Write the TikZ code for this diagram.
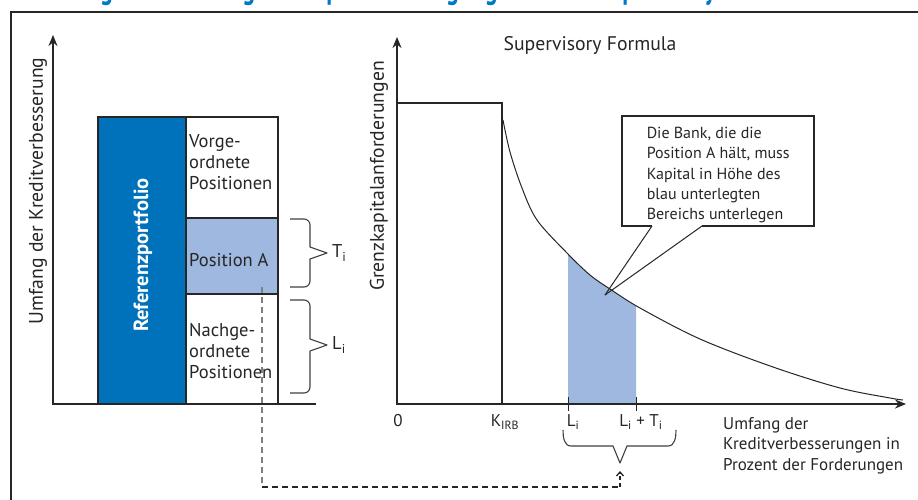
\documentclass[tikz,border=0pt]{standalone}
\usepackage{fontspec}
\setmainfont{PT Sans}
\usetikzlibrary{arrows.meta}
\definecolor{refblue}{RGB}{0,114,187}
\definecolor{lightblue}{RGB}{158,184,224}
\definecolor{titleblue}{RGB}{0,120,200}
\begin{document}
\begin{tikzpicture}[x=1pt,y=-1pt,
  txt/.style={inner sep=0pt, font=\fontsize{17}{20.5}\selectfont, text=black!85},
  big/.style={txt, font=\fontsize{19.7}{22}\selectfont},
  boxtxt/.style={txt, font=\fontsize{18.5}{21}\selectfont},
  axis/.style={line width=2pt, black!85},
  boxline/.style={line width=1.6pt, black!85},
  bracel/.style={line width=1.1pt, black!75, line join=round},
  tipst/.style={-{Stealth[length=11pt,width=9pt]}}]
\useasboundingbox (0,0) rectangle (918,499);
\fill[white] (0,0) rectangle (918,499);
% clipped title
\begin{scope}
\clip (0,0) rectangle (918,11);
\node[anchor=base west, inner sep=0pt, text=titleblue, xscale=0.7, font=\bfseries\fontsize{34}{34}\selectfont] (title) at (8,-1.5) {Abbildung 5: Ermittlung der Kapitalunterlegung nach der Supervisory Formula};
\end{scope}
% frame
\draw[line width=1.5pt, black!85] (11,510) -- (11,12) -- (930,12);
% ---------- left chart
\fill[refblue] (98,117) rectangle (186,404);
\fill[lightblue] (186,218) rectangle (278,294);
\draw[boxline] (98,404) -- (98,117) -- (278,117) -- (278,404);
\draw[boxline] (186,117) -- (186,404);
\draw[boxline] (186,218) -- (278,218);
\draw[boxline] (186,294) -- (278,294);
\draw[axis] (53,404) -- (316,404);
\draw[axis, tipst] (53,405) -- (53,35);
\node[big, rotate=90] (ylabL) at (38,191) {Umfang der Kreditverbesserung};
\node[txt, rotate=90, text=white, font=\bfseries\fontsize{20.5}{22}\selectfont] (ref) at (143,255) {Referenzportfolio};
\node[boxtxt, anchor=north west, align=left] (vorge) at (189,134) {Vorge-\\ordnete\\Positionen};
\node[boxtxt, anchor=west] (posA) at (189,260) {Position A};
\node[boxtxt, anchor=north west, align=left] (nachge) at (189,323) {Nachge-\\ordnete\\Positionen};
% braces
\draw[bracel] (290,219) -- (304,219) to[out=0,in=90] (310,225) -- (310,247) -- (327,253) -- (310,259) -- (310,281) to[out=-90,in=0] (304,287) -- (290,287);
\draw[bracel] (290,300) -- (304,300) to[out=0,in=90] (310,306) -- (310,339) -- (327,345) -- (310,351) -- (310,387) to[out=-90,in=0] (304,393) -- (290,393);
\node[boxtxt, anchor=west] (Tlab) at (332,253) {T\textsubscript{i}};
\node[boxtxt, anchor=west] (Llab) at (332,345) {L\textsubscript{i}};
% ---------- right chart
\begin{scope}
\clip (568,0) rectangle (636,404);
\fill[lightblue] plot[smooth, tension=0.55] coordinates {(503,120) (510,152) (522,188) (537,220) (567,253) (590,275) (610,289) (640,308) (700,339) (773,367) (840,388) (890,398) (903,400)} -- (903,404) -- (503,404) -- cycle;
\end{scope}
\draw[line width=1pt, black!85] plot[smooth, tension=0.55] coordinates {(503,120) (510,152) (522,188) (537,220) (567,253) (590,275) (610,289) (640,308) (700,339) (773,367) (840,388) (890,398) (903,400)};
\draw[axis] (397,103) -- (502,103) -- (502,404);
\draw[axis, tipst] (396,404) -- (906,404);
\draw[axis, tipst] (397,405) -- (397,37);
\draw[line width=1pt, black!85] (568,397) -- (568,411);
\draw[line width=1pt, black!85] (636,397) -- (636,411);
\node[big] (title2) at (590,46) {Supervisory Formula};
\node[big, rotate=90] (ylabR) at (379,176) {Grenzkapitalanforderungen};
\node[txt] (zero) at (398,421) {0};
\node[txt] (kirb) at (505,422) {K\textsubscript{IRB}};
\node[txt] (li) at (573,422) {L\textsubscript{i}};
\node[txt] (liti) at (641,422) {L\textsubscript{i} + T\textsubscript{i}};
\node[txt, anchor=north west, align=left] (xlab) at (723,417) {Umfang der\\Kreditverbesserungen in\\Prozent der Forderungen};
% bottom brace
\draw[bracel] (563,430) to[out=-90,in=180] (571,446) -- (613,446) -- (620,463) -- (627,446) -- (668,446) to[out=0,in=-90] (676,430);
\coordinate (btip) at (620,471);
\coordinate (dstart) at (262,287);
\coordinate (dcorner1) at (262,487);
\coordinate (dcorner2) at (620,487);
\draw[line width=1.1pt, black!50, dash pattern=on 6pt off 4pt] (dstart) -- (dcorner1);
\draw[line width=1.3pt, black!85, dash pattern=on 6pt off 4pt] (dcorner1) -- (dcorner2);
\draw[line width=1.3pt, black!85, dash pattern=on 4pt off 3pt, -{Straight Barb[length=4pt,width=7pt]}] (dcorner2) -- (btip);
% callout
\node[txt, anchor=north west, align=left, fill=white, minimum width=192pt, minimum height=110pt, inner xsep=7pt, inner ysep=11pt, font=\fontsize{16}{20.3}\selectfont] (call) at (622,116) {Die Bank, die die\\Position A hält, muss\\Kapital in Höhe des\\blau unterlegten\\Bereichs unterlegen};
\coordinate (ptip) at (605,295);
\draw[line width=1.2pt, black!85, line join=miter] (652,226) -- (622,226) -- (622,116) -- (814,116) -- (814,226) -- (702,226);
\draw[line width=1pt, black!85] (652,226) -- (ptip);
\draw[line width=1pt, black!85] (702,226) -- (ptip);
\end{tikzpicture}
\end{document}
